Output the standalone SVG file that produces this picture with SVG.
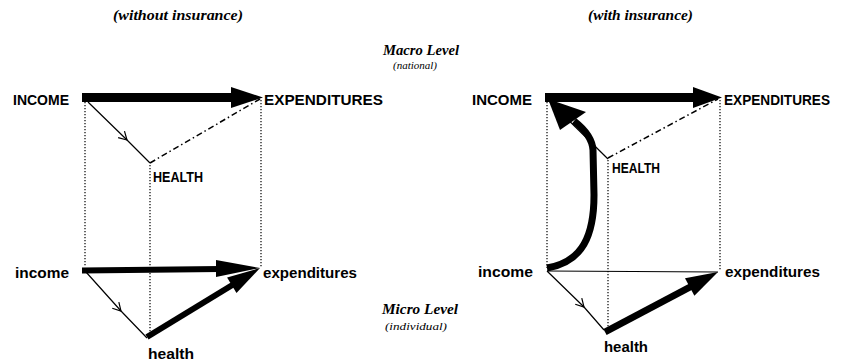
<svg xmlns="http://www.w3.org/2000/svg" width="849" height="361" viewBox="0 0 849 361">
<style>
.lbl{font-family:"Liberation Sans",Arial,sans-serif;font-weight:bold;font-size:15px;fill:#000}
.ttl{font-family:"Liberation Serif","Times New Roman",serif;font-weight:bold;font-style:italic;font-size:14px;fill:#000}
.lvl{font-family:"Liberation Serif","Times New Roman",serif;font-weight:bold;font-style:italic;font-size:14px;fill:#000}
.sub{font-family:"Liberation Serif","Times New Roman",serif;font-style:italic;font-size:11px;fill:#000}
.dot{stroke:#000;stroke-width:1.2;stroke-dasharray:1.3 1.7;fill:none}
.dd{stroke:#000;stroke-width:1.5;stroke-dasharray:6 3 1.5 3;fill:none}
.thin{stroke:#000;stroke-width:1.2;fill:none}
.thick{stroke:#000;fill:none}
.head{fill:#000;stroke:none}
</style>
<defs>
<marker id="chev" viewBox="-10 -6 12 12" markerWidth="12" markerHeight="12" refX="0" refY="0" orient="auto" markerUnits="userSpaceOnUse">
<path d="M-8,-4.5 L0,0 L-8,4.5" fill="none" stroke="#000" stroke-width="1.2"/>
</marker>
</defs>

<g id="titles">
<text class="ttl" x="113" y="20" textLength="130" lengthAdjust="spacingAndGlyphs">(without  insurance)</text>
<text class="ttl" x="588" y="20" textLength="105" lengthAdjust="spacingAndGlyphs">(with insurance)</text>
<text class="lvl" x="383" y="55" textLength="76" lengthAdjust="spacingAndGlyphs">Macro Level</text>
<text class="sub" x="393" y="69" textLength="44" lengthAdjust="spacingAndGlyphs">(national)</text>
<text class="lvl" x="382" y="314" textLength="76" lengthAdjust="spacingAndGlyphs">Micro Level</text>
<text class="sub" x="385" y="330" textLength="62" lengthAdjust="spacingAndGlyphs">(individual)</text>
</g>

<g id="connectors">
<line class="dot" x1="85" y1="102" x2="85" y2="267"/>
<line class="dot" x1="261" y1="100" x2="261" y2="267"/>
<line class="dot" x1="150" y1="165" x2="150" y2="335"/>
<line class="dot" x1="547" y1="102" x2="547" y2="268"/>
<line class="dot" x1="720" y1="100" x2="720" y2="271"/>
<line class="dot" x1="608" y1="160" x2="608" y2="330"/>

<polyline class="thin" points="88,102 127,140 150,163" marker-mid="url(#chev)"/>
<line class="dd" x1="150" y1="163" x2="260" y2="99"/>
<line class="thick" x1="82" y1="97.5" x2="234" y2="97.5" stroke-width="9"/>
<polygon class="head" points="231,87 263,97.5 231,108"/>

<polyline class="thin" points="86,272 121,311 147,338" marker-mid="url(#chev)"/>
<line class="thick" x1="82" y1="270.5" x2="220" y2="269" stroke-width="6"/>
<polygon class="head" points="216,260 260,268 216,277"/>
<line class="thick" x1="147" y1="337" x2="234" y2="284" stroke-width="6"/>
<polygon class="head" points="236.5,293 260,268 227.1,277.6"/>

<line class="thin" x1="548" y1="100" x2="608" y2="159"/>
<line class="dd" x1="608" y1="158" x2="718" y2="99"/>
<line class="thick" x1="545" y1="97.5" x2="696" y2="97.5" stroke-width="9"/>
<polygon class="head" points="693,87 722,97.5 693,108"/>

<line class="thin" x1="547" y1="271" x2="718" y2="272"/>
<polyline class="thin" points="547,271 584,307 604,330" marker-mid="url(#chev)"/>
<line class="thick" x1="605" y1="332" x2="692" y2="286" stroke-width="7"/>
<polygon class="head" points="694.4,295.8 718,272 685,278.2"/>

<path class="thick" d="M547,268 C583,262 594,235 594,195 L593,150 Q592,135 574,121" stroke-width="7"/>
<polygon class="head" points="548,99 560,130 586,112"/>
</g>

<g id="node-INCOME-left"><text class="lbl" x="13" y="105" textLength="56" lengthAdjust="spacingAndGlyphs">INCOME</text></g>
<g id="node-EXPENDITURES-left"><text class="lbl" x="264" y="105" textLength="119" lengthAdjust="spacingAndGlyphs">EXPENDITURES</text></g>
<g id="node-HEALTH-left"><text class="lbl" x="153" y="182" textLength="50" lengthAdjust="spacingAndGlyphs">HEALTH</text></g>
<g id="node-income-left"><text class="lbl" x="15" y="278" textLength="54" lengthAdjust="spacingAndGlyphs">income</text></g>
<g id="node-expenditures-left"><text class="lbl" x="263" y="278" textLength="94" lengthAdjust="spacingAndGlyphs">expenditures</text></g>
<g id="node-health-left"><text class="lbl" x="148" y="359" textLength="46" lengthAdjust="spacingAndGlyphs">health</text></g>

<g id="node-INCOME-right"><text class="lbl" x="472" y="105" textLength="60" lengthAdjust="spacingAndGlyphs">INCOME</text></g>
<g id="node-EXPENDITURES-right"><text class="lbl" x="724" y="105" textLength="106" lengthAdjust="spacingAndGlyphs">EXPENDITURES</text></g>
<g id="node-HEALTH-right"><text class="lbl" x="612" y="173" textLength="48" lengthAdjust="spacingAndGlyphs">HEALTH</text></g>
<g id="node-income-right"><text class="lbl" x="478" y="277" textLength="55" lengthAdjust="spacingAndGlyphs">income</text></g>
<g id="node-expenditures-right"><text class="lbl" x="725" y="277" textLength="95" lengthAdjust="spacingAndGlyphs">expenditures</text></g>
<g id="node-health-right"><text class="lbl" x="604" y="352" textLength="44" lengthAdjust="spacingAndGlyphs">health</text></g>
</svg>
